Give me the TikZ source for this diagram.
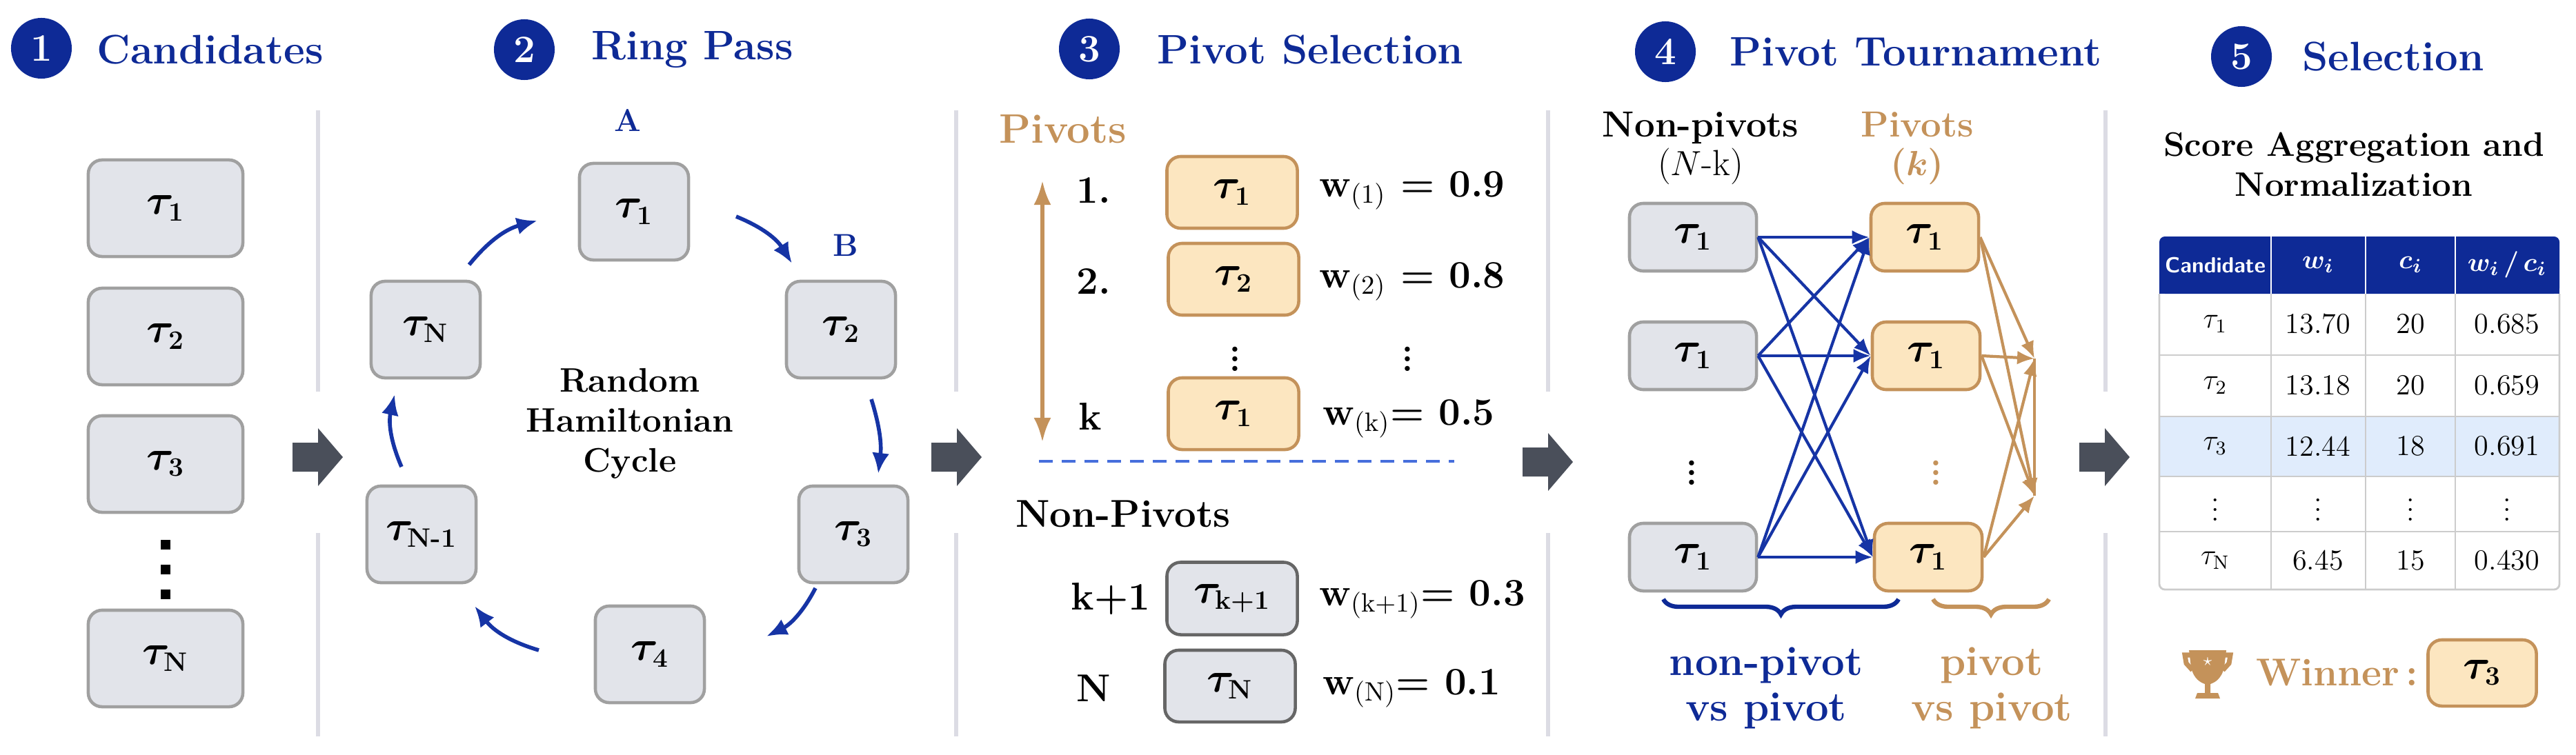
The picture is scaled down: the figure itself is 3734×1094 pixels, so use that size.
\documentclass[tikz,border=0pt]{standalone}
\usepackage{bm}
\usetikzlibrary{arrows.meta,decorations.pathreplacing,calc}
\definecolor{tblue}{RGB}{14,42,150}
\definecolor{ablue}{RGB}{22,52,165}
\definecolor{ofill}{RGB}{252,230,192}
\definecolor{oline}{RGB}{196,146,90}
\definecolor{gfill}{RGB}{226,228,234}
\definecolor{gline}{RGB}{160,160,160}
\definecolor{sepc}{RGB}{220,220,228}
\definecolor{barrow}{RGB}{74,79,90}
\definecolor{hlrow}{RGB}{224,236,252}
\definecolor{dashb}{RGB}{70,110,220}
\newcommand{\tk}[1]{$\bm{\tau}_{\mbox{\fontsize{11}{12}\selectfont\bfseries #1}}$}
\begin{document}
\begin{tikzpicture}[x=0.01cm,y=-0.01cm,
  gbox/.style={draw=gline,fill=gfill,rounded corners=0.2cm,line width=1.3pt,inner sep=0pt,font=\fontsize{17}{20}\selectfont},
  obox/.style={draw=oline,fill=ofill,rounded corners=0.2cm,line width=1.3pt,inner sep=0pt,font=\fontsize{17}{20}\selectfont},
  dbox/.style={gbox,draw=gray!80!black},
  num/.style={circle,fill=tblue,text=white,minimum size=0.88cm,inner sep=0pt,font=\fontsize{16}{18}\selectfont\bfseries},
  ttl/.style={anchor=west,text=tblue,font=\fontsize{17}{20}\selectfont\bfseries},
  sep/.style={draw=sepc,line width=1.6pt},
  ring/.style={draw=ablue,line width=1.6pt,-{Latex[length=0.3cm,width=0.25cm]}},
  lbl/.style={font=\fontsize{16}{19}\selectfont\bfseries},
  wl/.style={anchor=west,font=\fontsize{16}{19}\selectfont\bfseries},
  bl/.style={draw=ablue,line width=1.2pt,-{Latex[length=0.25cm,width=0.2cm]}},
  ol/.style={draw=oline,line width=1.2pt,-{Latex[length=0.25cm,width=0.2cm]}},
  dots/.style={inner sep=0pt,font=\bfseries\Large},
  cell/.style={font=\fontsize{12}{14}\selectfont},
  hcell/.style={text=white,font=\fontsize{11}{13}\selectfont\sffamily\bfseries}]
\useasboundingbox (0,0) rectangle (3734,1094);
\newcommand{\barr}[2]{\fill[barrow] (#1,#2-21) -- (#1+37,#2-21) -- (#1+37,#2-42) -- (#1+73,#2) -- (#1+37,#2+42) -- (#1+37,#2+21) -- (#1,#2+21) -- cycle;}
% separators
\foreach \x in {461,1386,2244,3052}{
  \draw[sep] (\x,160) -- (\x,568);
  \draw[sep] (\x,773) -- (\x,1068);}
\barr{424}{663}
\barr{1350}{663}
\barr{2207}{670}
\barr{3014}{663}
% ---- panel 1
\node[num] (n1) at (60,70) {1};
\node[ttl] (t1) at (128,72) {Candidates};
\node[gbox,minimum width=2.24cm,minimum height=1.40cm] (c1) at (240,302) {\tk{1}};
\node[gbox,minimum width=2.24cm,minimum height=1.40cm] (c2) at (240,488) {\tk{2}};
\node[gbox,minimum width=2.24cm,minimum height=1.40cm] (c3) at (240,673) {\tk{3}};
\node[gbox,minimum width=2.24cm,minimum height=1.40cm] (cN) at (240,955) {\tk{N}};
\foreach \y in {790,826,862} \fill (233,\y-7) rectangle (247,\y+7);
% ---- panel 2
\node[num] (n2) at (760,72) {2};
\node[ttl] (t2) at (845,72) {Ring Pass};
\node[text=tblue,font=\fontsize{13}{15}\selectfont\bfseries] (A) at (910,174) {A};
\node[text=tblue,font=\fontsize{13}{15}\selectfont\bfseries] (B) at (1226,356) {B};
\node[gbox,minimum width=1.58cm,minimum height=1.40cm] (r1) at (919,307) {\tk{1}};
\node[gbox,minimum width=1.58cm,minimum height=1.40cm] (r2) at (1219,478) {\tk{2}};
\node[gbox,minimum width=1.58cm,minimum height=1.40cm] (r3) at (1237,775) {\tk{3}};
\node[gbox,minimum width=1.58cm,minimum height=1.40cm] (r4) at (942,949) {\tk{4}};
\node[gbox,minimum width=1.58cm,minimum height=1.40cm] (r5) at (611,775) {\tk{N-1}};
\node[gbox,minimum width=1.58cm,minimum height=1.40cm] (r6) at (617,478) {\tk{N}};
\node[align=center,font=\fontsize{14}{16.5}\selectfont\bfseries] (hc) at (913,614) {Random\\Hamiltonian\\Cycle};
\coordinate (a1s) at (680,384); \coordinate (a1e) at (779,320);
\coordinate (a2s) at (1067,314); \coordinate (a2e) at (1148,382);
\coordinate (a3s) at (1263,579); \coordinate (a3e) at (1273,687);
\coordinate (a4s) at (1182,853); \coordinate (a4e) at (1111,923);
\coordinate (a5s) at (781,943); \coordinate (a5e) at (688,879);
\coordinate (a6s) at (582,677); \coordinate (a6e) at (572,572);
\draw[ring] (a1s) to[bend left=18] (a1e);
\draw[ring] (a2s) to[bend left=18] (a2e);
\draw[ring] (a3s) to[bend left=12] (a3e);
\draw[ring] (a4s) to[bend left=18] (a4e);
\draw[ring] (a5s) to[bend left=18] (a5e);
\draw[ring] (a6s) to[bend left=18] (a6e);
% ---- panel 3
\node[num] (n3) at (1579,71) {3};
\node[ttl] (t3) at (1665,72) {Pivot Selection};
\node[anchor=west,text=oline,font=\fontsize{17}{20}\selectfont\bfseries] (pv) at (1436,187) {Pivots};
\coordinate (da) at (1511,262); \coordinate (db) at (1511,641);
\draw[oline,line width=1.6pt,{Latex[length=0.35cm,width=0.25cm]}-{Latex[length=0.35cm,width=0.25cm]}] (da) -- (db);
\node[lbl] (l1) at (1585,276) {1.};
\node[lbl] (l2) at (1585,408) {2.};
\node[lbl] (lk) at (1580,604) {k};
\node[obox,minimum width=1.89cm,minimum height=1.04cm] (s1) at (1786,279) {\tk{1}};
\node[obox,minimum width=1.89cm,minimum height=1.04cm] (s2) at (1788,405) {\tk{2}};
\node[obox,minimum width=1.89cm,minimum height=1.04cm] (s3) at (1788,600) {\tk{1}};
\node[dots] (vd1) at (1790,510) {$\vdots$};
\node[dots] (vd2) at (2040,510) {$\vdots$};
\node[wl] (w1) at (1900,276) {w$_{(1)}$ = 0.9};
\node[wl] (w2) at (1900,408) {w$_{(2)}$ = 0.8};
\node[wl] (wk) at (1905,607) {w$_{(\mathrm{k})}$= 0.5};
\draw[dashb,line width=1.4pt,dash pattern=on 0.2cm off 0.13cm] (1506,669) -- (2108,669);
\node[anchor=west,font=\fontsize{16}{19}\selectfont\bfseries] (np) at (1460,745) {Non-Pivots};
\node[lbl] (lk1) at (1610,869) {k+1};
\node[lbl] (lN) at (1585,998) {N};
\node[dbox,minimum width=1.89cm,minimum height=1.05cm] (s4) at (1786,868) {\tk{k+1}};
\node[dbox,minimum width=1.89cm,minimum height=1.04cm] (s5) at (1783,995) {\tk{N}};
\node[wl] (w4) at (1900,869) {w$_{(\mathrm{k+1})}$= 0.3};
\node[wl] (w5) at (1905,998) {w$_{(\mathrm{N})}$= 0.1};
% ---- panel 4
\node[num] (n4) at (2414,75) {4};
\node[ttl] (t4) at (2495,75) {Pivot Tournament};
\node[align=center,font=\fontsize{15}{18}\selectfont] (hnp) at (2465,215) {\textbf{Non-pivots}\\[-2pt]($N$-k)};
\node[align=center,text=oline,font=\fontsize{15}{18}\selectfont\bfseries] (hp) at (2779,215) {Pivots\\[-2pt]($\bm{k}$)};
\node[gbox,minimum width=1.84cm,minimum height=0.98cm] (g1) at (2454,344) {\tk{1}};
\node[gbox,minimum width=1.84cm,minimum height=0.98cm] (g2) at (2454,516) {\tk{1}};
\node[gbox,minimum width=1.84cm,minimum height=0.98cm] (g3) at (2454,808) {\tk{1}};
\node[obox,minimum width=1.56cm,minimum height=0.98cm] (p1) at (2790,344) {\tk{1}};
\node[obox,minimum width=1.56cm,minimum height=0.98cm] (p2) at (2792,516) {\tk{1}};
\node[obox,minimum width=1.56cm,minimum height=0.98cm] (p3) at (2795,808) {\tk{1}};
\node[dots] (gd) at (2452,675) {$\vdots$};
\node[dots,text=oline] (pd) at (2806,675) {$\vdots$};
\foreach \g in {g1,g2,g3}\foreach \p in {p1,p2,p3} \draw[bl] (\g.east) -- (\p.west);
\coordinate (k1) at (2949,520); \coordinate (k2) at (2949,719);
\draw[oline,line width=1.2pt] (k1) -- (k2);
\foreach \p in {p1,p2,p3}{\draw[ol] (\p.east) -- (k1); \draw[ol] (\p.east) -- (k2);}
\draw[decorate,decoration={brace,mirror,amplitude=0.22cm},draw=tblue,line width=1.8pt] (2411,869) -- (2752,869);
\draw[decorate,decoration={brace,mirror,amplitude=0.22cm},draw=oline,line width=1.8pt] (2802,869) -- (2970,869);
\node[align=center,text=tblue,font=\fontsize{17}{19}\selectfont\bfseries] (bt1) at (2560,998) {non-pivot\\vs pivot};
\node[align=center,text=oline,font=\fontsize{17}{19}\selectfont\bfseries] (bt2) at (2887,998) {pivot\\vs pivot};
% ---- panel 5
\node[num] (n5) at (3249,82) {5};
\node[ttl] (t5) at (3325,82) {Selection};
\node[align=center,font=\fontsize{14}{16.5}\selectfont\bfseries] (sa) at (3412,238) {Score Aggregation and\\Normalization};
\fill[hlrow] (3130,604) rectangle (3710,691);
\fill[tblue,rounded corners=0.08cm] (3130,343) rectangle (3710,426);
\fill[tblue] (3130,400) rectangle (3710,426);
\draw[gray!40,line width=0.8pt] (3130,515) -- (3710,515) (3130,604) -- (3710,604) (3130,691) -- (3710,691) (3130,771) -- (3710,771);
\draw[gray!40,line width=0.8pt] (3292,426) -- (3292,855) (3429,426) -- (3429,855) (3559,426) -- (3559,855);
\draw[white,line width=0.8pt] (3292,343) -- (3292,426) (3429,343) -- (3429,426) (3559,343) -- (3559,426);
\draw[gray!40,line width=0.8pt,rounded corners=0.08cm] (3130,426) -- (3130,855) -- (3710,855) -- (3710,426);
\node[hcell,font=\fontsize{9}{11}\selectfont\sffamily\bfseries] (h1) at (3211,384) {Candidate};
\node[hcell] (h2) at (3360,384) {$\bm{w_i}$};
\node[hcell] (h3) at (3494,384) {$\bm{c_i}$};
\node[hcell] (h4) at (3634,384) {$\bm{w_i\,/\,c_i}$};
\foreach \y/\a/\b/\c/\d in {470/1/13.70/20/0.685,559/2/13.18/20/0.659,647/3/12.44/18/0.691,813/N/6.45/15/0.430}{
  \node[cell] at (3211,\y) {$\tau_{\mathrm{\a}}$};
  \node[cell] at (3360,\y) {\b};
  \node[cell] at (3494,\y) {\c};
  \node[cell] at (3634,\y) {\d};}
\foreach \x in {3211,3360,3494,3634} \node[cell] at (\x,729) {$\vdots$};
% trophy
\fill[oline] (3173,943) -- (3227,943) -- (3224,968) .. controls (3220,985) and (3210,990) .. (3204,992) -- (3204,1005) -- (3215,1005) -- (3218,1013) -- (3182,1013) -- (3185,1005) -- (3196,1005) -- (3196,992) .. controls (3190,990) and (3180,985) .. (3176,968) -- cycle;
\draw[oline,line width=2pt] (3175,950) -- (3167,950) -- (3169,962) -- (3178,972);
\draw[oline,line width=2pt] (3225,950) -- (3233,950) -- (3231,962) -- (3222,972);
\node[text=white,font=\scriptsize,inner sep=0pt] (star) at (3200,960) {$\star$};
\node[anchor=west,text=oline,font=\fontsize{16}{19}\selectfont\bfseries] (wn) at (3258,975) {Winner\,:};
\node[obox,minimum width=1.57cm,minimum height=0.96cm] (win) at (3598,976) {\tk{3}};
\end{tikzpicture}
\end{document}
